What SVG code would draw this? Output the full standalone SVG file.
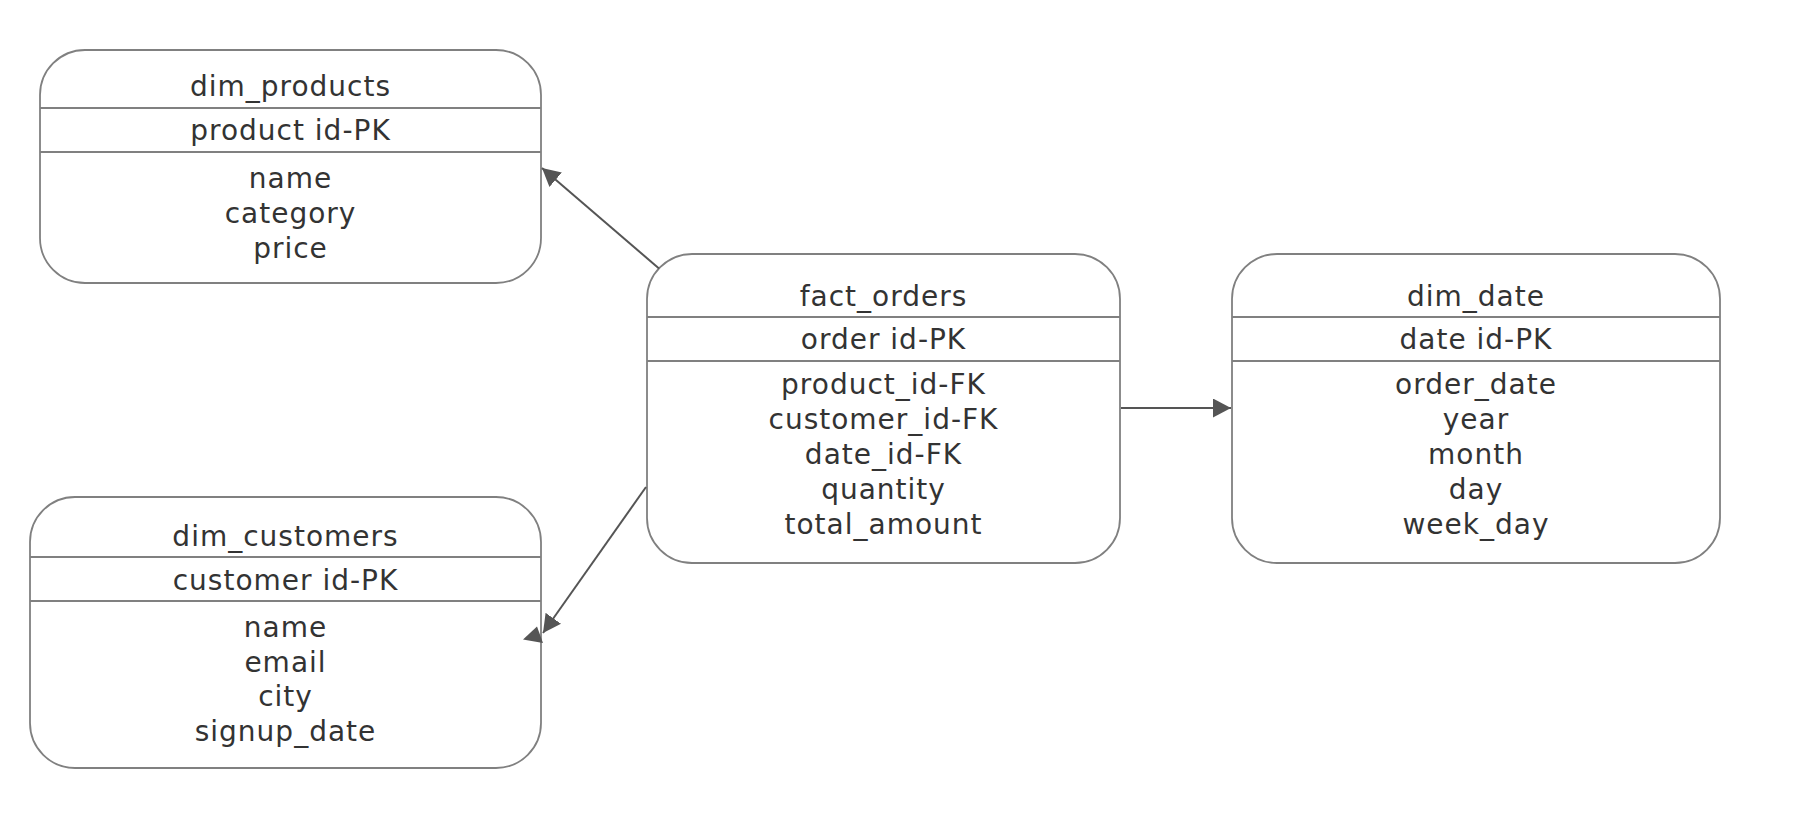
<svg xmlns="http://www.w3.org/2000/svg" width="1798" height="832" viewBox="0 0 1798 832">
  <style>
    .box { fill: #ffffff; stroke: #808080; stroke-width: 1.8; }
    .sep { stroke: #808080; stroke-width: 1.8; }
    .lbl { font-family: "DejaVu Sans", Verdana, sans-serif; font-size: 28px; fill: #333333; text-anchor: middle; letter-spacing: 1px; }
    .edge { stroke: #555555; stroke-width: 2; fill: none; }
    .head { fill: #555555; }
  </style>
  <defs>
    <marker id="arrow" markerUnits="userSpaceOnUse" markerWidth="18" markerHeight="19" viewBox="0 0 18 19" refX="18" refY="9.5" orient="auto">
      <path d="M0,0 L18,9.5 L0,19 z" class="head"/>
    </marker>
  </defs>
  <rect width="1798" height="832" fill="#ffffff"/>

  <g id="dim_products">
    <rect class="box" x="40" y="50" width="501" height="233" rx="45" ry="45"/>
    <line class="sep" x1="40" y1="108" x2="541" y2="108"/>
    <line class="sep" x1="40" y1="152" x2="541" y2="152"/>
    <text class="lbl" x="290.5" y="96">dim_products</text>
    <text class="lbl" x="290.5" y="140">product id-PK</text>
    <text class="lbl" x="290.5" y="188">name</text>
    <text class="lbl" x="290.5" y="223">category</text>
    <text class="lbl" x="290.5" y="258">price</text>
  </g>

  <g id="fact_orders">
    <rect class="box" x="647" y="254" width="473" height="309" rx="45" ry="45"/>
    <line class="sep" x1="647" y1="317" x2="1120" y2="317"/>
    <line class="sep" x1="647" y1="361" x2="1120" y2="361"/>
    <text class="lbl" x="883.5" y="306">fact_orders</text>
    <text class="lbl" x="883.5" y="349">order id-PK</text>
    <text class="lbl" x="883.5" y="394">product_id-FK</text>
    <text class="lbl" x="883.5" y="429">customer_id-FK</text>
    <text class="lbl" x="883.5" y="464">date_id-FK</text>
    <text class="lbl" x="883.5" y="499">quantity</text>
    <text class="lbl" x="883.5" y="534">total_amount</text>
  </g>

  <g id="dim_date">
    <rect class="box" x="1232" y="254" width="488" height="309" rx="45" ry="45"/>
    <line class="sep" x1="1232" y1="317" x2="1720" y2="317"/>
    <line class="sep" x1="1232" y1="361" x2="1720" y2="361"/>
    <text class="lbl" x="1476" y="306">dim_date</text>
    <text class="lbl" x="1476" y="349">date id-PK</text>
    <text class="lbl" x="1476" y="394">order_date</text>
    <text class="lbl" x="1476" y="429">year</text>
    <text class="lbl" x="1476" y="464">month</text>
    <text class="lbl" x="1476" y="499">day</text>
    <text class="lbl" x="1476" y="534">week_day</text>
  </g>

  <g id="dim_customers">
    <rect class="box" x="30" y="497" width="511" height="271" rx="45" ry="45"/>
    <line class="sep" x1="30" y1="557" x2="541" y2="557"/>
    <line class="sep" x1="30" y1="601" x2="541" y2="601"/>
    <text class="lbl" x="285.5" y="546">dim_customers</text>
    <text class="lbl" x="285.5" y="590">customer id-PK</text>
    <text class="lbl" x="285.5" y="637">name</text>
    <text class="lbl" x="285.5" y="672">email</text>
    <text class="lbl" x="285.5" y="706">city</text>
    <text class="lbl" x="285.5" y="741">signup_date</text>
  </g>

  <!-- relationships, drawn over the tables -->
  <g id="connectors">
    <line class="edge" x1="659" y1="268.5" x2="542" y2="168" marker-end="url(#arrow)"/>
    <line class="edge" x1="646" y1="487" x2="543" y2="633" marker-end="url(#arrow)"/>
    <polygon class="head" points="523,639.5 537,626.5 543,643"/>
    <line class="edge" x1="1121" y1="408" x2="1231" y2="408" marker-end="url(#arrow)"/>
  </g>
</svg>
